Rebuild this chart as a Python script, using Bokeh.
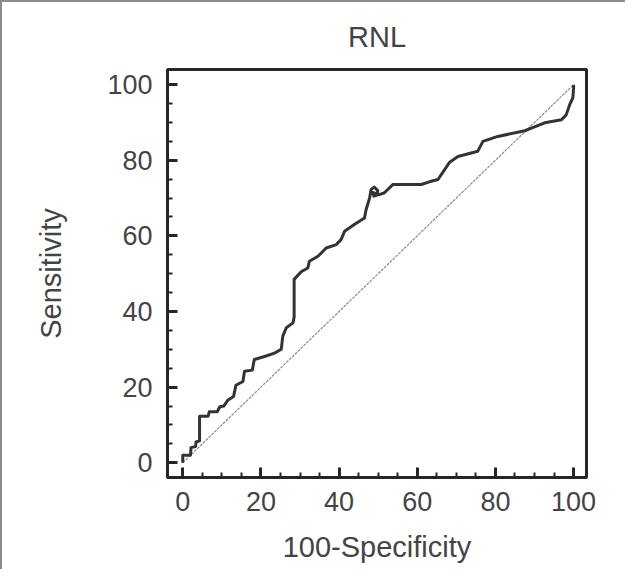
from bokeh.plotting import figure
from bokeh.models import FixedTicker
from bokeh.embed import file_html
from bokeh.resources import INLINE

# ROC curve values
fpr = [0, 0, 2.0, 2.1, 3.3, 3.4, 4.3, 4.3, 6.5, 6.8, 8.8, 9.5, 10.5, 11.5, 13.0,
       13.6, 15.4, 15.8, 17.8, 18.3, 20.9, 23.5, 25.2, 25.6, 26.5, 28.2, 28.5,
       28.5, 30.3, 32.0, 32.4, 34.6, 36.7, 39.3, 40.5, 41.4, 43.9, 46.5, 46.9,
       47.8, 48.2, 49.0, 49.9, 49.7, 48.9, 48.6, 50.3, 51.6, 53.8, 61.0, 63.1,
       65.3, 68.3, 70.4, 75.5, 76.8, 80.6, 87.5, 89.2, 92.6, 96.9, 98.1, 99.0,
       99.8, 100, 100]
tpr = [0, 2.0, 2.0, 4.0, 4.3, 5.5, 5.8, 12.3, 12.3, 13.5, 13.5, 14.8, 15.0,
       16.5, 17.5, 20.5, 21.5, 24.2, 24.5, 27.3, 28.1, 29.0, 30.0, 33.5, 35.7,
       37.0, 38.5, 48.5, 50.5, 51.5, 53.3, 54.6, 56.8, 57.7, 59.0, 61.2, 63.0,
       64.7, 66.9, 70.0, 72.3, 72.9, 72.0, 70.8, 70.5, 71.5, 70.9, 71.4, 73.6,
       73.6, 74.3, 74.9, 79.5, 81.0, 82.4, 85.0, 86.3, 87.8, 88.5, 89.9, 90.7,
       92.0, 94.7, 96.5, 99.1, 100]
diag_x = [0, 100]
diag_y = [0, 100]
major_ticks = [0, 20, 40, 60, 80, 100]
minor_ticks = [0, 5, 10, 15, 20, 25, 30, 35, 40, 45, 50, 55, 60, 65, 70, 75, 80, 85, 90, 95, 100]
title_text = "RNL"

FONT = "Liberation Sans"
TXT = "#444444"
FS_TICK = "27px"
FS_LABEL = "29px"

p = figure(width=625, height=569, output_backend="svg", toolbar_location=None,
           x_range=(-3.9, 103.3), y_range=(-3.9, 104.0),
           min_border_left=165, min_border_right=41, min_border_top=67,
           min_border_bottom=94, title=title_text,
           styles={"border-left": "2px solid #8c8c8c", "border-top": "2px solid #8c8c8c"})

p.grid.visible = False
p.background_fill_color = "white"
p.border_fill_color = "white"
p.outline_line_color = "#262626"
p.outline_line_width = 3

p.title.text_font = FONT
p.title.text_font_size = FS_LABEL
p.title.text_font_style = "normal"
p.title.text_color = TXT
p.title.align = "center"
p.title.vertical_align = "top"
p.title.standoff = 30

for ax in (p.xaxis[0], p.yaxis[0]):
    ax.ticker = FixedTicker(ticks=major_ticks, minor_ticks=minor_ticks)
    ax.axis_line_color = "#262626"
    ax.axis_line_width = 3
    ax.major_tick_in = 10
    ax.major_tick_out = 0
    ax.minor_tick_in = 5
    ax.minor_tick_out = 0
    ax.major_tick_line_color = "#262626"
    ax.major_tick_line_width = 3
    ax.minor_tick_line_color = "#262626"
    ax.minor_tick_line_width = 2
    ax.major_label_text_font = FONT
    ax.major_label_text_font_size = FS_TICK
    ax.major_label_text_color = TXT
    ax.axis_label_text_font = FONT
    ax.axis_label_text_font_size = FS_LABEL
    ax.axis_label_text_font_style = "normal"
    ax.axis_label_text_color = TXT

p.xaxis.axis_label = "100-Specificity"
p.yaxis.axis_label = "Sensitivity"
p.xaxis.major_label_standoff = 14
p.yaxis.major_label_standoff = 15
p.xaxis.axis_label_standoff = 17
p.yaxis.axis_label_standoff = 37

p.line(diag_x, diag_y, line_color="#8c8c8c", line_width=1.2, line_dash="3 1")
p.line(fpr, tpr, line_color="#333333", line_width=3, line_join="round")

open("out.html", "w").write(file_html(p, INLINE))
